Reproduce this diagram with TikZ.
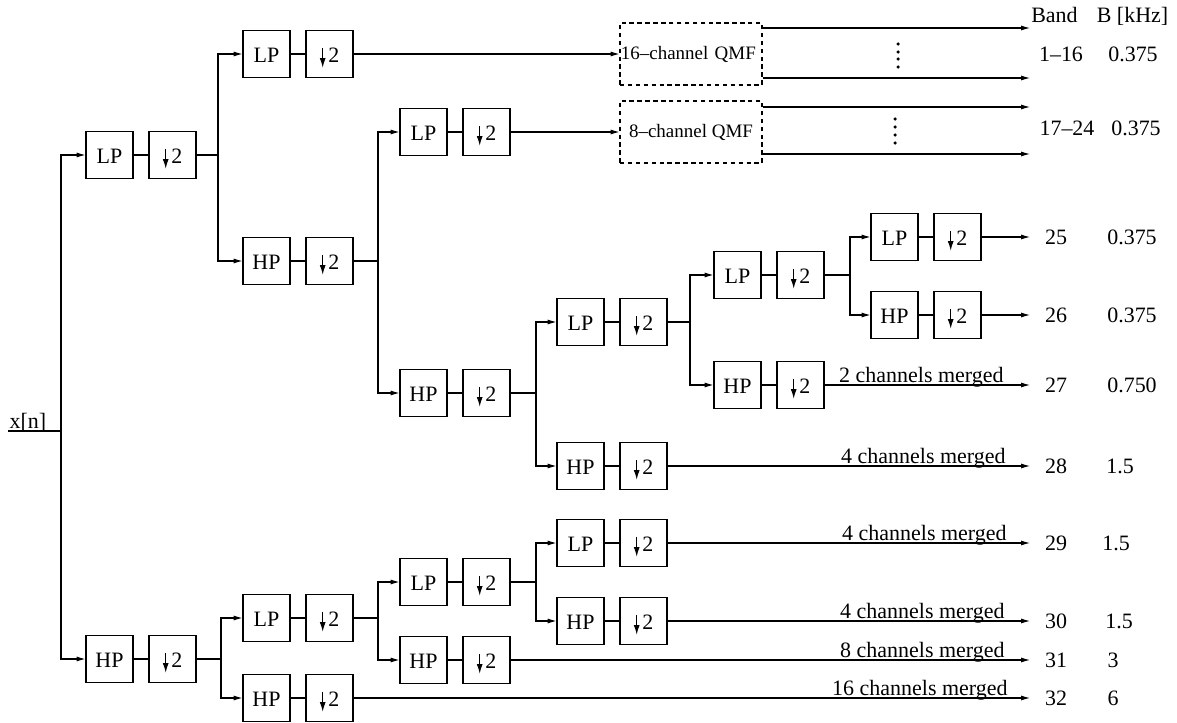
\documentclass[tikz,border=0pt]{standalone}
\usepackage{fontspec}
\setmainfont{Liberation Serif}
\usetikzlibrary{arrows.meta,calc}
\newcommand\dsamp{\tikz[baseline=0pt]\draw[line width=0.6pt,-{Latex[length=5.5pt,width=3.4pt]}] (0pt,8pt)--(0pt,-3pt);\hspace{1.5pt}2\hspace{3.5pt}}
\begin{document}
\begin{tikzpicture}[x=0.02cm,y=-0.02cm, line width=0.6pt,
  >={Latex[length=5pt,width=2.8pt]},
  every node/.style={font=\fontsize{12.5}{15}\selectfont},
  filt/.style={draw, minimum width=0.94cm, minimum height=0.94cm, inner sep=0pt, text height=9.6pt, text depth=0pt},
  qmf/.style={draw, dash pattern=on 2.5pt off 2pt, minimum width=2.84cm, minimum height=1.24cm, inner sep=0pt, font=\fontsize{10.8}{13}\selectfont},
  lbl/.style={anchor=base east, inner sep=0pt},
  num/.style={anchor=base, inner sep=0pt}]
\useasboundingbox (0,0) rectangle (1177,723);

% input
\coordinate (xin) at (8,431);
\coordinate (s0) at (61,431);
\node[anchor=base west, inner sep=0pt] (xl) at (9,428) {x[n]};
\draw (xin) -- (s0);

% level 1
\node[filt] (lp1) at (109.5,155) {LP};
\node[filt] (d1) at (172.5,155) {\dsamp};
\node[filt] (hp1) at (109.5,659) {HP};
\node[filt] (dh1) at (172.5,659) {\dsamp};
\draw[->] (s0) |- (lp1);
\draw[->] (s0) |- (hp1);
\draw (lp1) -- (d1);
\draw (hp1) -- (dh1);

% level 2 (top)
\coordinate (s1) at (218,155);
\node[filt] (lp2a) at (266.5,54) {LP};
\node[filt] (d2a) at (329.5,54) {\dsamp};
\node[filt] (hp2a) at (266.5,261) {HP};
\node[filt] (dh2a) at (329.5,261) {\dsamp};
\draw (d1) -- (s1);
\draw[->] (s1) |- (lp2a);
\draw[->] (s1) |- (hp2a);
\draw (lp2a) -- (d2a);
\draw (hp2a) -- (dh2a);

% QMF boxes
\node[qmf, text width=2.84cm, align=left] (qmf16) at (691,54) {\hspace{0.5pt}16--channel QMF};
\node[qmf] (qmf8) at (691,132) {8--channel QMF};
\draw[->] (d2a) -- (qmf16);

% level 3 (top)
\coordinate (s2a) at (378,261);
\node[filt] (lp3a) at (423.5,132) {LP};
\node[filt] (d3a) at (486.5,132) {\dsamp};
\node[filt] (hp3a) at (423.5,393) {HP};
\node[filt] (dh3a) at (486.5,393) {\dsamp};
\draw (dh2a) -- (s2a);
\draw[->] (s2a) |- (lp3a);
\draw[->] (s2a) |- (hp3a);
\draw (lp3a) -- (d3a);
\draw (hp3a) -- (dh3a);
\draw[->] (d3a) -- (qmf8);

% level 4 (top)
\coordinate (s3a) at (536,393);
\node[filt] (lp4a) at (580.5,322) {LP};
\node[filt] (d4a) at (643.5,322) {\dsamp};
\node[filt] (hp4a) at (580.5,466) {HP};
\node[filt] (dh4a) at (643.5,466) {\dsamp};
\draw (dh3a) -- (s3a);
\draw[->] (s3a) |- (lp4a);
\draw[->] (s3a) |- (hp4a);
\draw (lp4a) -- (d4a);
\draw (hp4a) -- (dh4a);

% level 5
\coordinate (s4a) at (690,322);
\node[filt] (lp5a) at (737.5,275) {LP};
\node[filt] (d5a) at (800.5,275) {\dsamp};
\node[filt] (hp5a) at (737.5,385) {HP};
\node[filt] (dh5a) at (800.5,385) {\dsamp};
\draw (d4a) -- (s4a);
\draw[->] (s4a) |- (lp5a);
\draw[->] (s4a) |- (hp5a);
\draw (lp5a) -- (d5a);
\draw (hp5a) -- (dh5a);

% level 6
\coordinate (s5a) at (850,275);
\node[filt] (lp6a) at (894.5,237) {LP};
\node[filt] (d6a) at (957.5,237) {\dsamp};
\node[filt] (hp6a) at (894.5,315) {HP};
\node[filt] (dh6a) at (957.5,315) {\dsamp};
\draw (d5a) -- (s5a);
\draw[->] (s5a) |- (lp6a);
\draw[->] (s5a) |- (hp6a);
\draw (lp6a) -- (d6a);
\draw (hp6a) -- (dh6a);

% bottom branch
\coordinate (s1b) at (221,659);
\node[filt] (lp2b) at (266.5,618) {LP};
\node[filt] (d2b) at (329.5,618) {\dsamp};
\node[filt] (hp2b) at (266.5,698) {HP};
\node[filt] (dh2b) at (329.5,698) {\dsamp};
\draw (dh1) -- (s1b);
\draw[->] (s1b) |- (lp2b);
\draw[->] (s1b) |- (hp2b);
\draw (lp2b) -- (d2b);
\draw (hp2b) -- (dh2b);

\coordinate (s2b) at (378,618);
\node[filt] (lp3b) at (423.5,582) {LP};
\node[filt] (d3b) at (486.5,582) {\dsamp};
\node[filt] (hp3b) at (423.5,660) {HP};
\node[filt] (dh3b) at (486.5,660) {\dsamp};
\draw (d2b) -- (s2b);
\draw[->] (s2b) |- (lp3b);
\draw[->] (s2b) |- (hp3b);
\draw (lp3b) -- (d3b);
\draw (hp3b) -- (dh3b);

\coordinate (s3b) at (536,582);
\node[filt] (lp4b) at (580.5,543) {LP};
\node[filt] (d4b) at (643.5,543) {\dsamp};
\node[filt] (hp4b) at (580.5,621) {HP};
\node[filt] (dh4b) at (643.5,621) {\dsamp};
\draw (d3b) -- (s3b);
\draw[->] (s3b) |- (lp4b);
\draw[->] (s3b) |- (hp4b);
\draw (lp4b) -- (d4b);
\draw (hp4b) -- (dh4b);

% outputs
\coordinate (o1t) at (1030,28);
\coordinate (o1b) at (1030,78);
\coordinate (o2t) at (1030,107);
\coordinate (o2b) at (1030,154);
\draw[->] (qmf16.east |- o1t) -- (o1t);
\draw[->] (qmf16.east |- o1b) -- (o1b);
\draw[->] (qmf8.east |- o2t) -- (o2t);
\draw[->] (qmf8.east |- o2b) -- (o2b);
\foreach \yy in {44,52,59,67} \fill (898,\yy) circle (1pt);
\foreach \yy in {119,127,135,143} \fill (895,\yy) circle (1pt);

\coordinate (o25) at (1030,237);
\coordinate (o26) at (1030,315);
\coordinate (o27) at (1030,385);
\coordinate (o28) at (1030,466);
\coordinate (o29) at (1030,543);
\coordinate (o30) at (1030,621);
\coordinate (o31) at (1030,660);
\coordinate (o32) at (1030,698);
\draw[->] (d6a) -- (o25);
\draw[->] (dh6a) -- (o26);
\draw[->] (dh5a) -- (o27);
\draw[->] (dh4a) -- (o28);
\draw[->] (d4b) -- (o29);
\draw[->] (dh4b) -- (o30);
\draw[->] (dh3b) -- (o31);
\draw[->] (dh2b) -- (o32);

\node[lbl] (m27) at (1004,382) {2 channels merged};
\node[lbl] (m28) at (1006,463) {4 channels merged};
\node[lbl] (m29) at (1007,540) {4 channels merged};
\node[lbl] (m30) at (1005,618) {4 channels merged};
\node[lbl] (m31) at (1005,657) {8 channels merged};
\node[lbl] (m32) at (1008,695) {16 channels merged};

% table
\node[num] (hband) at (1054.5,23) {Band};
\node[num] (hbw) at (1132.5,23) {B [kHz]};
\node[num] (b1) at (1061,62) {1--16};
\node[num] (w1) at (1133,62) {0.375};
\node[num] (b2) at (1067,135) {17--24};
\node[num] (w2) at (1136,135) {0.375};
\node[num] (b25) at (1056,244) {25};
\node[num] (w25) at (1132,244) {0.375};
\node[num] (b26) at (1056,322) {26};
\node[num] (w26) at (1132,322) {0.375};
\node[num] (b27) at (1056,392) {27};
\node[num] (w27) at (1132,392) {0.750};
\node[num] (b28) at (1056,473) {28};
\node[num] (w28) at (1120,473) {1.5};
\node[num] (b29) at (1056,550) {29};
\node[num] (w29) at (1116,550) {1.5};
\node[num] (b30) at (1056,628) {30};
\node[num] (w30) at (1119,628) {1.5};
\node[num] (b31) at (1056,667) {31};
\node[num] (w31) at (1113,667) {3};
\node[num] (b32) at (1056,705) {32};
\node[num] (w32) at (1113,705) {6};
\end{tikzpicture}
\end{document}
